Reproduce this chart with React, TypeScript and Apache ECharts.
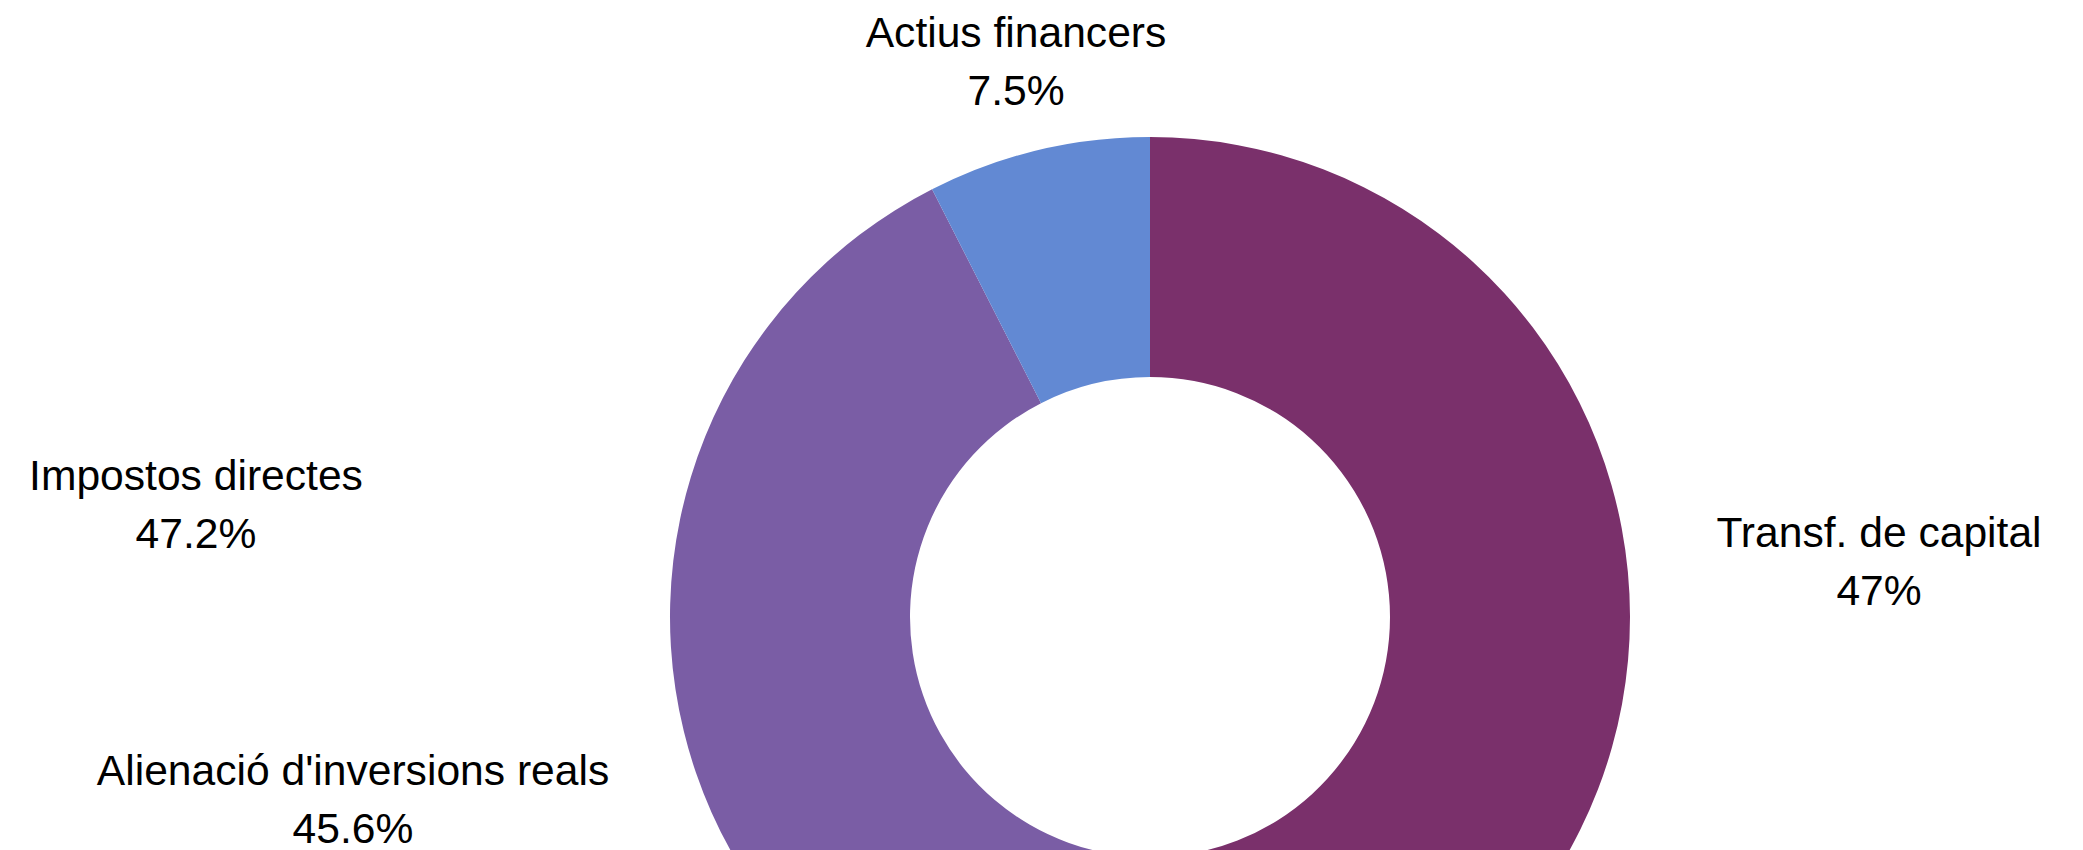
import React, { useEffect, useRef } from "react";
import * as echarts from "echarts";

const categories = [
  "Transf. de capital",
  "Alienació d'inversions reals",
  "Impostos directes",
  "Actius financers",
];
const shares = [47, 45.5, 0, 7.5];
const labelPercents = ["47%", "45.6%", "47.2%", "7.5%"];
const colors = ["#7a306b", "#7a5da5", "#7a5da5", "#6289d3"];

// label anchor positions (px)
const labelPos: [number, number][] = [
  [1879, 561],
  [353, 799],
  [196, 504],
  [1016, 61],
];

export default function App() {
  const ref = useRef<HTMLDivElement>(null);
  useEffect(() => {
    if (!ref.current) return;
    const chart = echarts.init(ref.current, undefined, { renderer: "svg" });
    chart.setOption({
      animation: false,
      backgroundColor: "#ffffff",
      series: [
        {
          type: "pie",
          center: [1150, 617],
          radius: [240, 480],
          startAngle: 90,
          clockwise: true,
          silent: true,
          avoidLabelOverlap: false,
          labelLine: { show: false },
          label: {
            show: true,
            position: "outside",
            color: "#000",
            fontSize: 42.6,
            lineHeight: 58,
            fontFamily: "Liberation Sans",
            formatter: (p: any) => `${p.name}\n${labelPercents[p.dataIndex]}`,
          },
          labelLayout: (p: any) => ({
            x: labelPos[p.dataIndex][0],
            y: labelPos[p.dataIndex][1],
            align: "center",
            verticalAlign: "middle",
          }),
          data: categories.map((name, i) => ({
            name,
            value: shares[i],
            itemStyle: { color: colors[i] },
          })),
        },
      ],
    });
    return () => chart.dispose();
  }, []);
  return (
    <div
      ref={ref}
      style={{ position: "fixed", left: 0, top: 0, width: 2083, height: 850 }}
    />
  );
}
